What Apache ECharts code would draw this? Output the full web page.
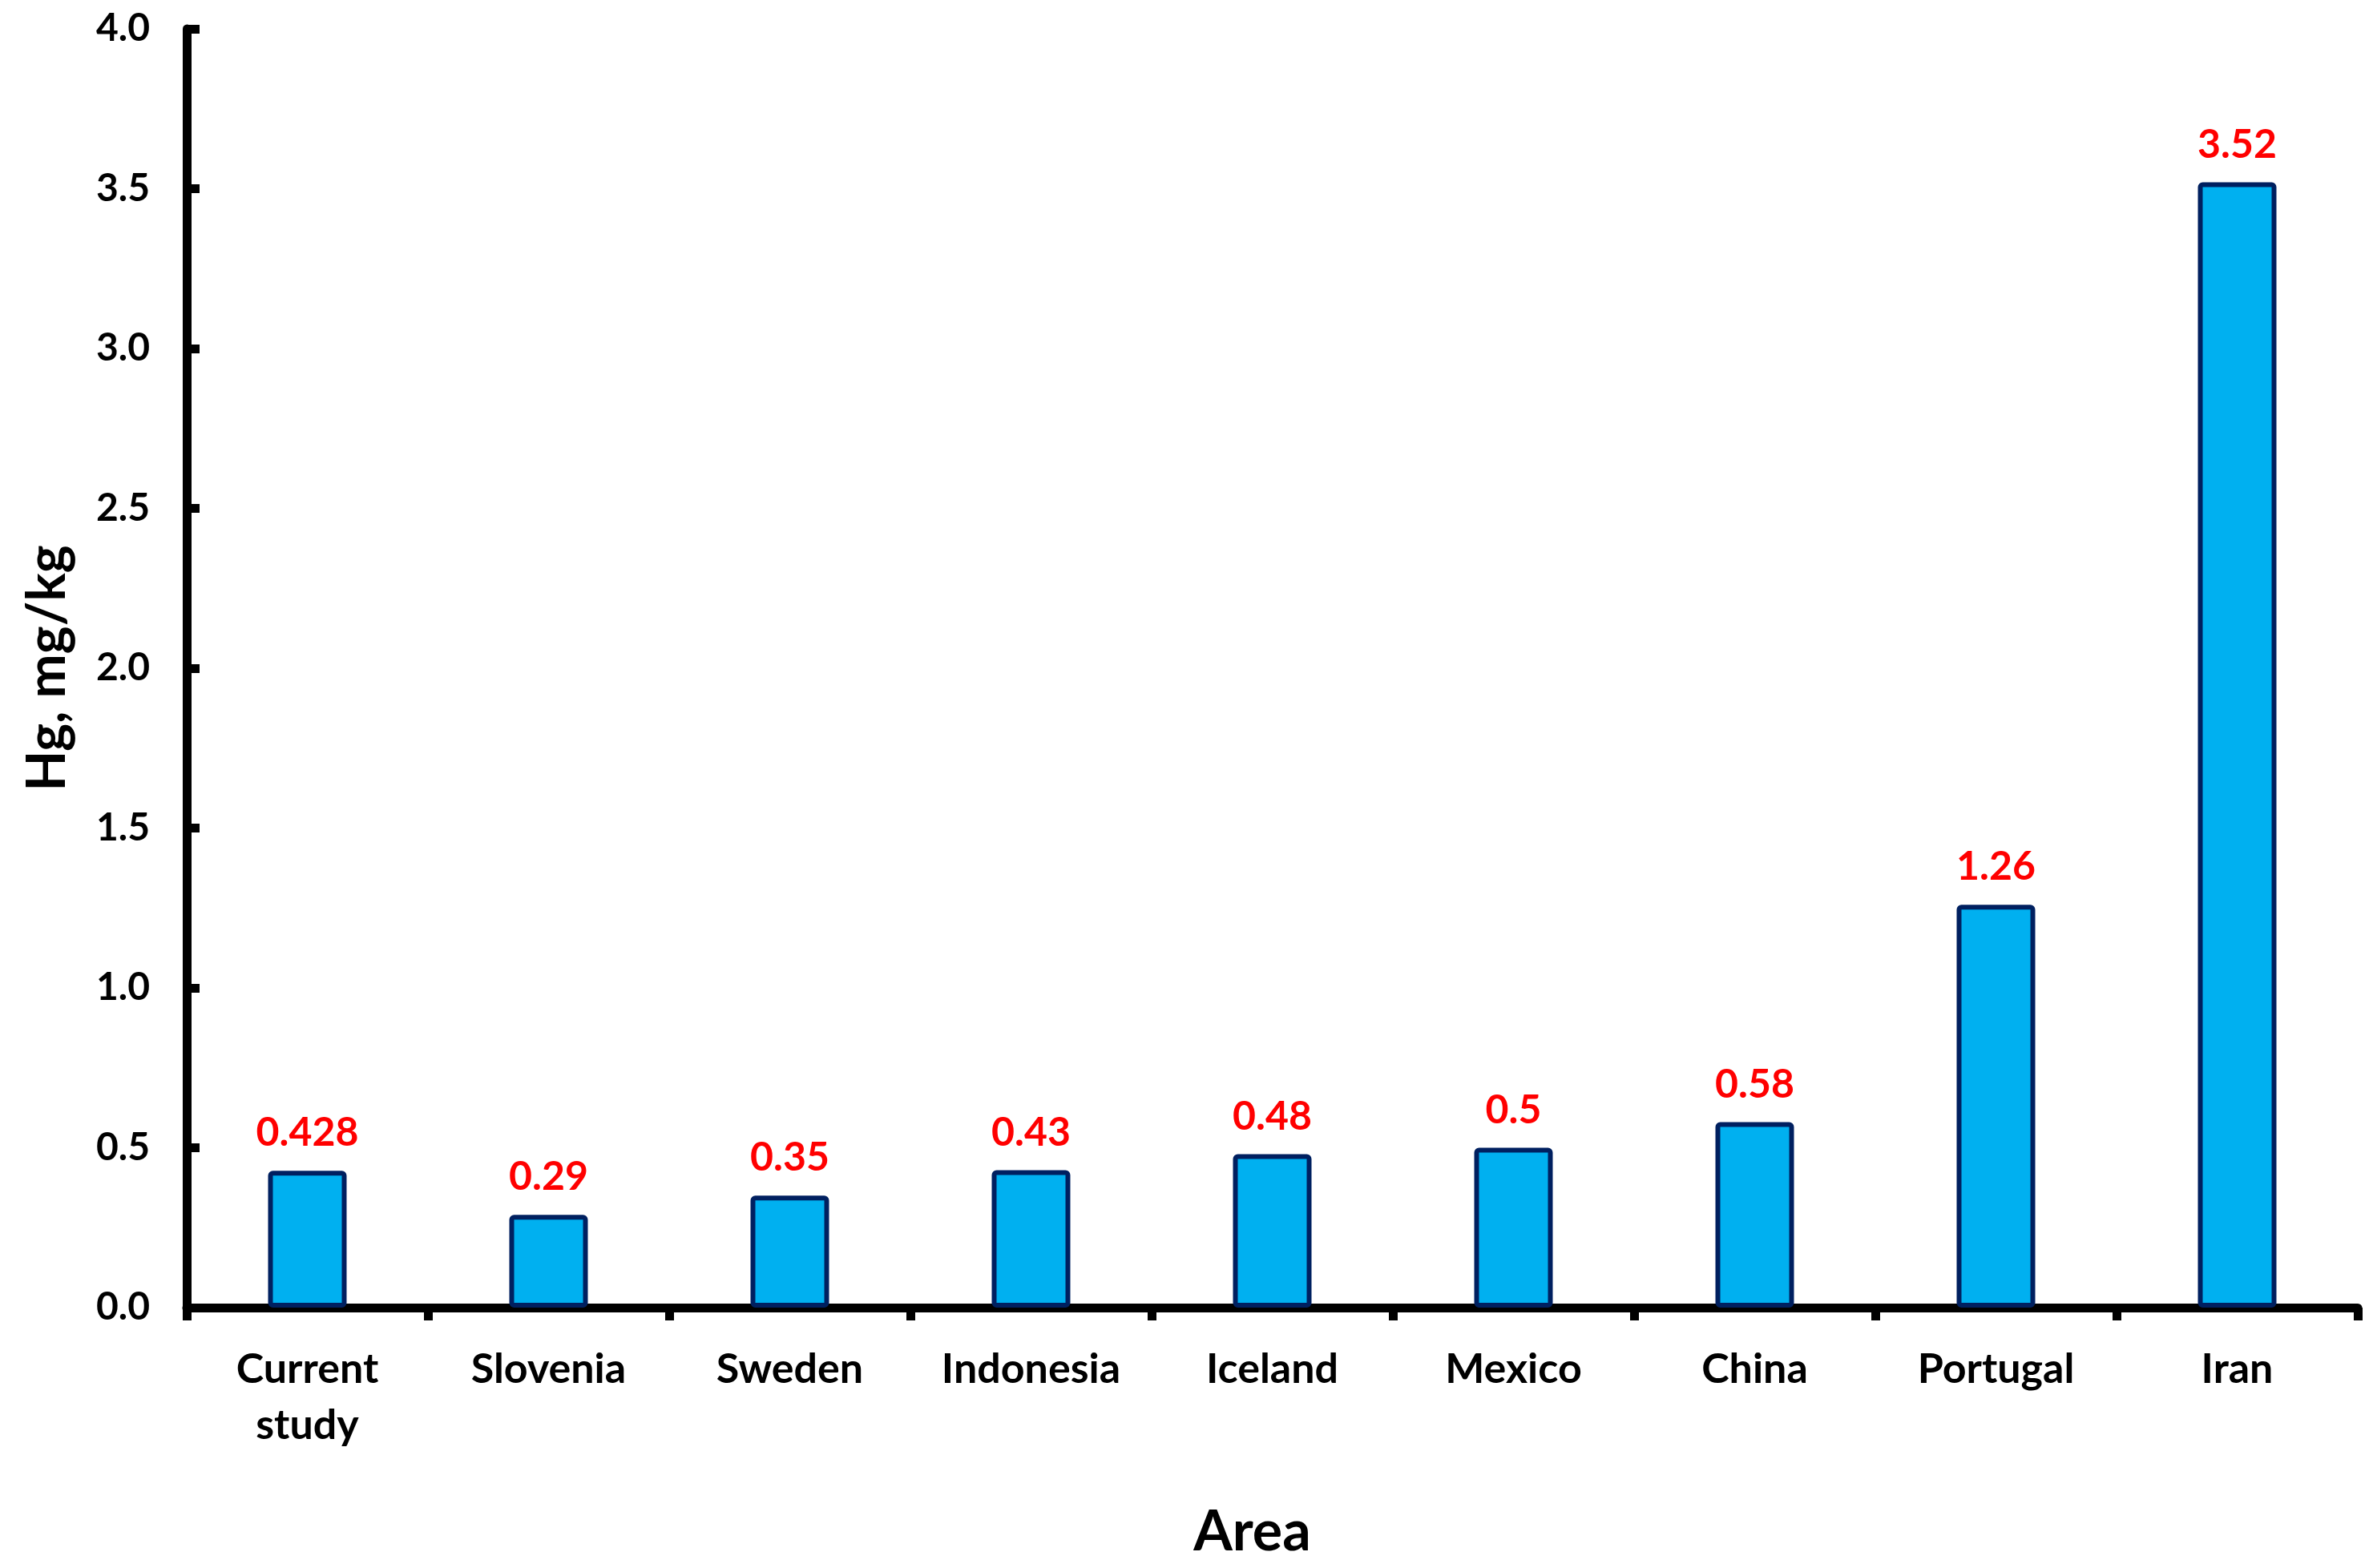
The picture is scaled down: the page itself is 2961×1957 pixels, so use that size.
<!DOCTYPE html>
<html>
<head>
<meta charset="utf-8">
<script src="https://cdn.jsdelivr.net/npm/echarts@6/dist/echarts.min.js"></script>
<style>
  html, body { margin: 0; padding: 0; background: #fff; }
  #chartdiv { width: 2961px; height: 1957px; }
</style>
</head>
<body>
<div id="chartdiv"></div>
<script>
const areas = ["Current\nstudy", "Slovenia", "Sweden", "Indonesia", "Iceland", "Mexico", "China", "Portugal", "Iran"];
const hgValues = [0.428, 0.29, 0.35, 0.43, 0.48, 0.5, 0.58, 1.26, 3.52];
const valueLabels = ["0.428", "0.29", "0.35", "0.43", "0.48", "0.5", "0.58", "1.26", "3.52"];

const FONT = "Lato, 'Open Sans', sans-serif";

function renderChart() {
  const chart = echarts.init(document.getElementById("chartdiv"));

  const option = {
    animation: false,
    grid: { left: 233, right: 19, top: 36, bottom: 325 },
    xAxis: {
      type: "category",
      data: areas,
      name: "Area",
      nameLocation: "middle",
      nameGap: 245,
      nameTextStyle: {
        fontFamily: FONT, fontWeight: "bold", fontSize: 70, color: "#000",
        padding: [0, 50, 0, 0]
      },
      axisLine: { lineStyle: { color: "#000", width: 11 } },
      axisTick: { show: true, inside: false, length: 16, lineStyle: { color: "#000", width: 11 } },
      axisLabel: {
        fontFamily: FONT, fontWeight: "bold", fontSize: 52, color: "#000",
        margin: 42, lineHeight: 70, interval: 0
      }
    },
    yAxis: {
      type: "value",
      min: 0,
      max: 4,
      interval: 0.5,
      name: "Hg, mg/kg",
      nameLocation: "middle",
      nameGap: 140,
      nameRotate: 90,
      nameTextStyle: { fontFamily: FONT, fontWeight: "bold", fontSize: 66, color: "#000" },
      axisLine: { show: true, lineStyle: { color: "#000", width: 11 } },
      axisTick: { show: true, inside: true, length: 16, lineStyle: { color: "#000", width: 11 } },
      splitLine: { show: false },
      axisLabel: {
        fontFamily: FONT, fontWeight: "bold", fontSize: 48, color: "#000",
        margin: 46,
        formatter: v => v.toFixed(1)
      }
    },
    series: [
      {
        type: "bar",
        data: hgValues,
        barWidth: 98,
        itemStyle: {
          color: "#00B0F0",
          borderColor: "#002060",
          borderWidth: 6,
          borderRadius: 3
        },
        label: {
          show: true,
          position: "top",
          distance: 22,
          fontFamily: FONT,
          fontWeight: "bold",
          fontSize: 50,
          color: "#FF0000",
          formatter: p => valueLabels[p.dataIndex]
        }
      }
    ]
  };

  chart.setOption(option);
}

window.onload = renderChart;
</script>
</body>
</html>
